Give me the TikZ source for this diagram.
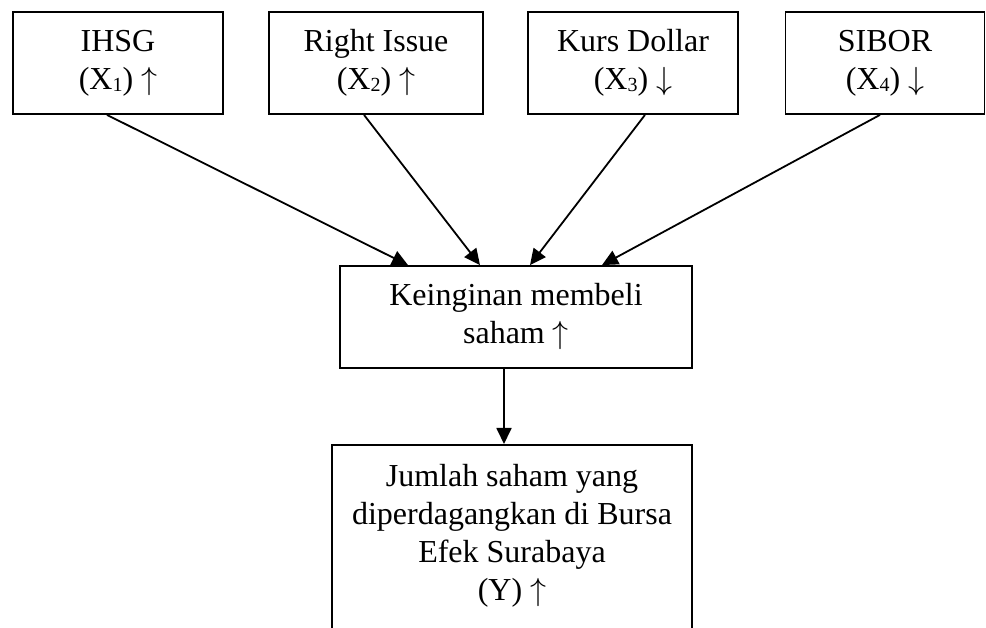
\RequirePackage{fix-cm}
\documentclass[tikz,border=0pt]{standalone}
\usepackage{fontspec}
\setmainfont{Liberation Serif}
\usetikzlibrary{arrows.meta}
\newcommand{\sbs}[1]{{\fontsize{20}{20}\selectfont\raisebox{-2pt}{#1}}}
\newcommand{\upar}{$\uparrow$}
\newcommand{\dnar}{$\downarrow$}
\tikzset{
  box/.style={draw, line width=1.8pt, align=center, inner sep=0pt,
    font=\fontsize{32}{38}\selectfont},
  conn/.style={line width=1.8pt, -{Triangle[length=16pt,width=15pt]}}
}
\begin{document}
\begin{tikzpicture}[x=1pt,y=-1pt]
\clip (0,0) rectangle (986,628);
\fill[white] (0,0) rectangle (986,628);
\node[box, minimum width=210pt, minimum height=102pt] (b1) at (118,63) {IHSG\\(X\sbs{1}) \upar};
\node[box, minimum width=214pt, minimum height=102pt] (b2) at (376,63) {Right Issue\\(X\sbs{2}) \upar};
\node[box, minimum width=210pt, minimum height=102pt] (b3) at (633,63) {Kurs Dollar\\(X\sbs{3}) \dnar};
\node[box, minimum width=199pt, minimum height=102pt] (b4) at (885,63) {SIBOR\\(X\sbs{4}) \dnar};
\node[box, minimum width=352pt, minimum height=102pt] (mid) at (516,317) {Keinginan membeli\\saham \upar};
\node[box, minimum width=360pt, anchor=north, inner ysep=19pt, text depth=80pt] (bot) at (512,444)
  {Jumlah saham yang\\diperdagangkan di Bursa\\Efek Surabaya\\(Y) \upar};
\coordinate (ax) at (504,0);
\draw[conn] ([xshift=-11pt]b1.south) -- ([xshift=-108pt]mid.north);
\draw[conn] ([xshift=-12pt]b2.south) -- ([xshift=-36pt]mid.north);
\draw[conn] ([xshift=12pt]b3.south) -- ([xshift=14pt]mid.north);
\draw[conn] ([xshift=-5pt]b4.south) -- ([xshift=86pt]mid.north);
\draw[conn] (mid.south -| ax) -- (bot.north -| ax);
\end{tikzpicture}
\end{document}
